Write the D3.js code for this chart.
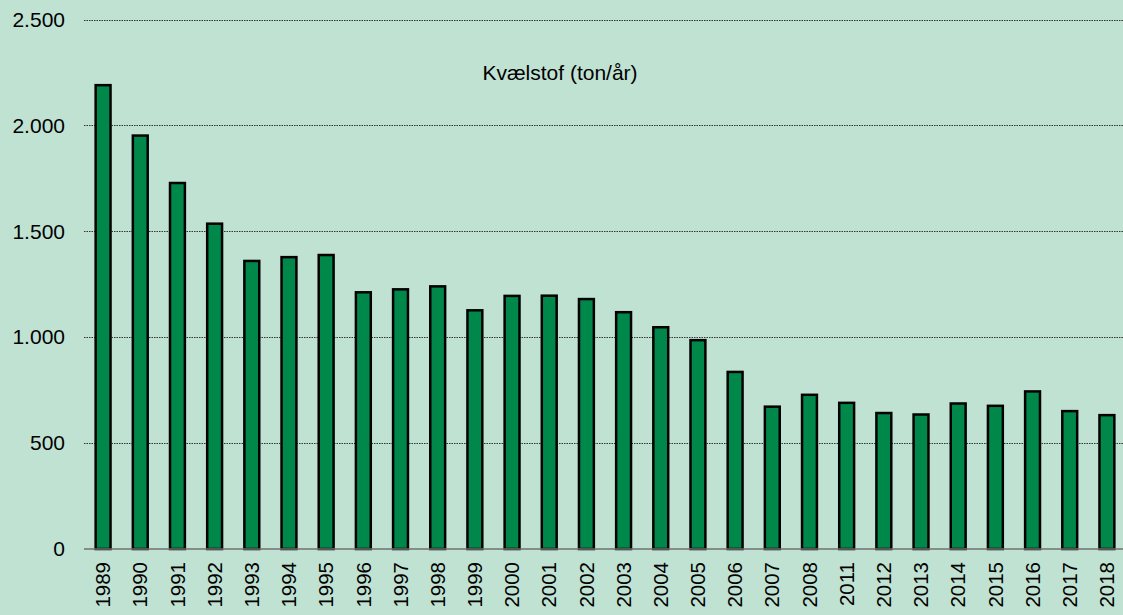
<!DOCTYPE html>
<html>
<head>
<meta charset="utf-8">
<script src="https://cdn.jsdelivr.net/npm/d3@7"></script>
<style>
	html, body { margin: 0; padding: 0; background: #c0e2d2; }
	svg { display: block; font-family: Arial, "Liberation Sans", sans-serif; }
</style>
</head>
<body>
<svg width="1123" height="615"></svg>
<script>
var years = ["1989", "1990", "1991", "1992", "1993", "1994", "1995", "1996", "1997", "1998",
	"1999", "2000", "2001", "2002", "2003", "2004", "2005", "2006", "2007", "2008",
	"2011", "2012", "2013", "2014", "2015", "2016", "2017", "2018"]
var nitrogen = [2190, 1952, 1728, 1536, 1360, 1378, 1388, 1212, 1226, 1240,
	1127, 1195, 1196, 1180, 1118, 1047, 986, 836, 672, 728,
	690, 642, 635, 687, 676, 744, 651, 632]
var yTicks = [0, 500, 1000, 1500, 2000, 2500]
var title = "Kvælstof (ton/år)"

var svg = d3.select("svg"),
	width = +svg.attr("width"),
	height = +svg.attr("height")

var margin = { left: 84.5, right: -2.5, top: 19.5, bottom: 66 }

var x = d3
	.scaleBand()
	.domain(years)
	.range([margin.left, width - margin.right])
	.paddingInner(0.6)
	.paddingOuter(0.3)

var y = d3
	.scaleLinear()
	.domain([0, 2500])
	.range([height - margin.bottom, margin.top])

svg.append("rect").attr("width", width).attr("height", height).attr("fill", "#c0e2d2")

// gridlines
var grid_g = svg.append("g").attr("name", "grid")
grid_g
	.selectAll("line")
	.data(yTicks.filter((d) => d > 0))
	.enter()
	.append("line")
	.attr("x1", 84)
	.attr("x2", width)
	.attr("y1", (d) => Math.round(y(d)) + 0.5)
	.attr("y2", (d) => Math.round(y(d)) + 0.5)
	.attr("stroke", "#333")
	.attr("stroke-width", 1)
	.attr("stroke-dasharray", "1.5,1")

// y axis labels
var yAxis = d3
	.axisLeft(y)
	.tickValues(yTicks)
	.tickSize(0)
	.tickPadding(0)
	.tickFormat((d) => d3.format(",")(d).replace(/,/g, "."))

svg
	.append("g")
	.attr("transform", "translate(65,0)")
	.call(yAxis)
	.call((g) => g.select(".domain").remove())
	.selectAll("text")
	.attr("font-size", 21)
	.attr("font-family", "Arial, 'Liberation Sans', sans-serif")
	.attr("fill", "#000")

// bars
svg
	.append("g")
	.attr("name", "bars")
	.selectAll("rect")
	.data(nitrogen)
	.enter()
	.append("rect")
	.attr("x", (d, i) => x(years[i]))
	.attr("y", (d) => y(d))
	.attr("width", x.bandwidth())
	.attr("height", (d) => y(0) - y(d))
	.attr("fill", "#00884a")
	.attr("stroke", "#000")
	.attr("stroke-width", 2.5)

// baseline
svg
	.append("line")
	.attr("x1", 84)
	.attr("x2", width)
	.attr("y1", y(0))
	.attr("y2", y(0))
	.attr("stroke", "#707070")
	.attr("stroke-width", 1.5)

// x axis labels
var xAxis = d3.axisBottom(x).tickSize(0).tickPadding(0)
svg
	.append("g")
	.attr("transform", "translate(0," + y(0) + ")")
	.call(xAxis)
	.call((g) => g.select(".domain").remove())
	.selectAll("text")
	.attr("font-size", 20.5)
	.attr("font-family", "Arial, 'Liberation Sans', sans-serif")
	.attr("fill", "#000")
	.attr("transform", "rotate(-90)")
	.attr("text-anchor", "end")
	.attr("x", -13)
	.attr("y", 0)
	.attr("dy", "0.35em")

// title
svg
	.append("text")
	.attr("x", 560)
	.attr("y", 80)
	.attr("text-anchor", "middle")
	.attr("font-size", 21)
	.attr("fill", "#000")
	.text(title)
</script>
</body>
</html>
